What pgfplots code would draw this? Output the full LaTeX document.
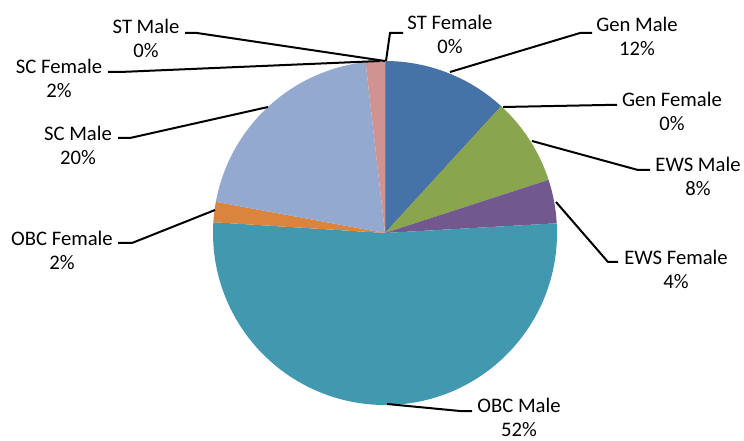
\documentclass[border=0pt]{standalone}
\usepackage{fontspec}
\setmainfont{Carlito}
\usepackage{pgfplots}
\usepackage{pgfplotstable}
\pgfplotsset{compat=1.18}
\definecolor{c1}{HTML}{4572A7}
\definecolor{c2}{HTML}{AA4643}
\definecolor{c3}{HTML}{89A54E}
\definecolor{c4}{HTML}{71588F}
\definecolor{c5}{HTML}{4198AF}
\definecolor{c6}{HTML}{DB843D}
\definecolor{c7}{HTML}{93A9CF}
\definecolor{c8}{HTML}{D19392}
\definecolor{c9}{HTML}{B9CD96}
\definecolor{c10}{HTML}{A99BBD}
\tikzset{lbl/.style={font=\fontsize{15.5}{18}\selectfont, align=center, text=black, inner sep=0pt}}
\pgfplotstableread{
val col
11.8 c1
0.0 c2
8.2 c3
4.1 c4
51.9 c5
1.9 c6
20.3 c7
1.8 c8
0.0 c9
0.0 c10
}\piedata
\begin{document}
\begin{tikzpicture}
\begin{axis}[
  x=0.75pt, y=0.75pt,
  xmin=-385, xmax=359, ymin=-207, ymax=233,
  hide axis, clip=false,
]
\path (rel axis cs:0,0) rectangle (rel axis cs:1,1);
\def\cum{0}
\pgfplotsforeachungrouped \i in {0,...,9}{%
  \pgfplotstablegetelem{\i}{val}\of\piedata \let\pval\pgfplotsretval
  \pgfplotstablegetelem{\i}{col}\of\piedata \let\pcol\pgfplotsretval
  \pgfmathsetmacro\sa{90-3.6*\cum}%
  \pgfmathsetmacro\ea{90-3.6*(\cum+\pval)}%
  \edef\temp{\noexpand\fill[\pcol] (axis cs:0,0) -- ++(\sa:129pt) arc[start angle=\sa, end angle=\ea, radius=129pt] -- cycle;}%
  \temp
  \pgfmathsetmacro\cum{\cum+\pval}%
}
% leader lines (pixel -> axis: X=px-385, Y=233-py)
\addplot[black, line width=1.5pt] coordinates {(-200,200) (-188,200) (0,172)};
\addplot[black, line width=1.5pt] coordinates {(-277,161) (-265,161) (-5,172)};
\addplot[black, line width=1.5pt] coordinates {(1,172) (5,200) (18,200)};
\addplot[black, line width=1.5pt] coordinates {(65,161) (195,200) (207,200)};
\addplot[black, line width=1.5pt] coordinates {(118,126) (220,128) (232,128)};
\addplot[black, line width=1.5pt] coordinates {(147,92) (253,63) (265,63)};
\addplot[black, line width=1.5pt] coordinates {(171,31) (223,-29) (233,-29)};
\addplot[black, line width=1.5pt] coordinates {(2,-171) (75,-178) (87,-178)};
\addplot[black, line width=1.5pt] coordinates {(-170,23) (-253,-10) (-267,-10)};
\addplot[black, line width=1.5pt] coordinates {(-117,126) (-255,95) (-267,95)};
% labels
\node[lbl] at (axis cs:-239,195) {ST Male\\0\%};
\node[lbl] at (axis cs:-326,155) {SC Female\\2\%};
\node[lbl] at (axis cs:-307,88) {SC Male\\20\%};
\node[lbl] at (axis cs:-323,-17) {OBC Female\\2\%};
\node[lbl] at (axis cs:65,199) {ST Female\\0\%};
\node[lbl] at (axis cs:252,197) {Gen Male\\12\%};
\node[lbl] at (axis cs:287,122) {Gen Female\\0\%};
\node[lbl] at (axis cs:313,57) {EWS Male\\8\%};
\node[lbl] at (axis cs:291,-36) {EWS Female\\4\%};
\node[lbl] at (axis cs:134,-184) {OBC Male\\52\%};
\end{axis}
\end{tikzpicture}
\end{document}
